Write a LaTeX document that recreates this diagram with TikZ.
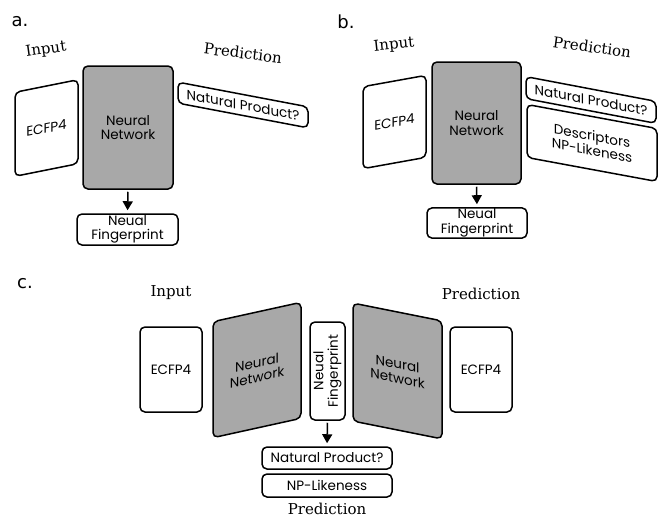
\documentclass[tikz,border=0pt]{standalone}
\usepackage{fontspec}
\newfontfamily\boxfont{Poppins}
\newfontfamily\headfont{DejaVu Serif}
\newfontfamily\panelfont{DejaVu Sans}
\usetikzlibrary{arrows.meta}
\definecolor{NetGray}{HTML}{A8A8A8}
\tikzset{
  fig style/.style={
    x=1pt, y=-1pt,
  },
  panel label/.style={
    font=\panelfont\fontsize{18}{20}\selectfont, inner sep=0pt
  },
  side label/.style={
    font=\headfont\fontsize{15}{17}\selectfont, inner sep=0pt
  },
  plain box/.style={
    draw, line width=1.5pt, rounded corners=5pt, fill=white,
    align=center, inner sep=1pt,
    font=\boxfont\fontsize{13.5}{14.5}\selectfont
  },
  net box/.style={
    plain box, fill=NetGray,
  },
  flow arrow/.style={
    -{Triangle[width=10pt,length=9pt]}, line width=1.5pt,
    shorten <=2pt, shorten >=3pt
  },
}

\begin{document}
\begin{tikzpicture}[fig style]
  \useasboundingbox (0,0) rectangle (658,517);
  % panel a
  \node[panel label] (la) at (20,22) {a.};
  \node[side label, rotate=8] (ina) at (46,50) {Input};
  \node[side label, rotate=-7] (preda) at (243,53) {Prediction};
  \node[plain box, yslant=0.2, minimum width=63pt, minimum height=84pt] (ecfpa) at (46.5,128) {ECFP4};
  \node[net box, minimum width=90pt, minimum height=123pt] (neta) at (128,127.5) {Neural\\Network};
  \node[plain box, yslant=-0.19, minimum width=130pt, minimum height=21pt] (npa) at (243,105) {Natural Product?};
  \node[plain box, minimum width=101pt, minimum height=31pt] (fpa) at (127.5,229.5) {Neual\\Fingerprint};
  \draw[flow arrow] (neta.south) -- (fpa.north);
  % panel b
  \node[panel label] (lb) at (346,22) {b.};
  \node[side label, rotate=6] (inb) at (394,45) {Input};
  \node[side label, rotate=-8] (predb) at (592,47) {Prediction};
  \node[plain box, yslant=0.18, minimum width=63pt, minimum height=82pt] (ecfpb) at (394.5,122) {ECFP4};
  \node[net box, minimum width=89pt, minimum height=122pt] (netb) at (476.5,123) {Neural\\Network};
  \node[plain box, yslant=-0.19, minimum width=130pt, minimum height=22pt] (npb) at (591,100) {Natural Product?};
  \node[plain box, yslant=-0.185, minimum width=130pt, minimum height=53pt] (descb) at (592,143) {Descriptors\\NP-Likeness};
  \node[plain box, minimum width=100pt, minimum height=28pt] (fpb) at (477,223) {Neual\\Fingerprint};
  \draw[flow arrow] (netb.south) -- (fpb.north);
  % panel c
  \node[panel label] (lc) at (25,284) {c.};
  \node[side label] (inc) at (171,293) {Input};
  \node[side label] (predc) at (481,294) {Prediction};
  \node[plain box, minimum width=62pt, minimum height=85pt] (ecfpc) at (171,369.5) {ECFP4};
  \node[net box, yslant=0.22, minimum width=88pt, minimum height=116pt] (netc) at (257,370) {Neural\\Network};
  \node[plain box, rotate=90, minimum width=98pt, minimum height=35pt] (fpc) at (327.5,371) {Neual\\Fingerprint};
  \node[net box, yslant=-0.2, minimum width=89pt, minimum height=118pt] (netd) at (397.5,371) {Neural\\Network};
  \node[plain box, minimum width=62pt, minimum height=85pt] (ecfpd) at (481,369.5) {ECFP4};
  \node[plain box, minimum width=130pt, minimum height=22pt] (npc) at (327,458) {Natural Product?};
  \node[plain box, minimum width=130pt, minimum height=23pt] (likec) at (327,485.5) {NP-Likeness};
  \node[side label] (predd) at (327,509) {Prediction};
  \draw[flow arrow] (fpc.west) -- (npc.north);
\end{tikzpicture}
\end{document}
